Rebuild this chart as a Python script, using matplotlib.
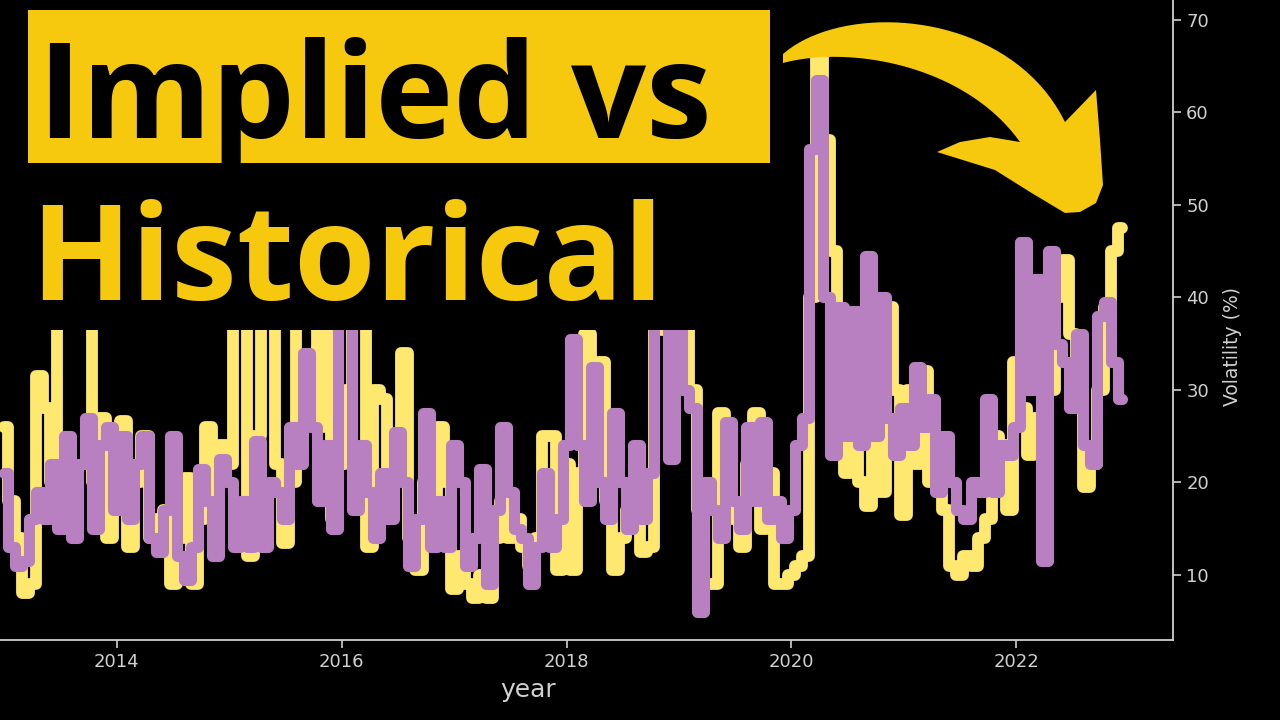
import numpy as np
import matplotlib
matplotlib.use("Agg")
import matplotlib.pyplot as plt
from matplotlib.patches import Rectangle, Polygon

# sampled roughly every 3 weeks starting Jan 2013
start_year = 2013.0
step = 1 / 16

hist_vol = [
    26, 18, 14, 8, 9, 31.5, 28, 20, 40, 40, 38, 40, 38, 20, 27, 14, 22, 26.7, 13, 20, 25, 14, 16,
    17, 9, 14, 20.5, 9, 16, 26, 18, 24, 22, 40, 40, 12, 25, 40, 40, 22, 13.5, 20, 40, 38, 40, 26,
    38, 16, 22, 30, 40, 38, 13, 30, 29, 17, 21, 34, 14, 10.5, 20, 16, 26, 20, 8.5, 12, 9, 7.5, 10,
    7.5, 14, 18, 14, 16, 13, 11, 14, 25, 25, 10.5, 22, 10.5, 21, 36, 24, 33, 18, 10.5, 14, 17, 18, 12.5,
    13, 38, 36.5, 40, 38, 40, 30, 17, 9, 9, 27.5, 22, 16, 13, 22, 27.5, 15, 21, 9, 9, 10, 11,
    12, 40, 66, 57, 45, 35, 21, 30, 20, 17.5, 26, 19, 39, 30, 16.5, 30, 22, 32, 20, 24, 17, 11, 10,
    12, 11, 14, 16, 25, 24, 17, 33, 28, 23, 27, 24, 30, 40, 44, 36, 30, 19.5, 22, 30, 39, 45, 47.5,
]

implied_vol = [
    21, 13, 11, 11.5, 16, 19, 16, 22, 15, 25, 14, 22, 27, 15, 24, 26, 17, 25, 16, 22, 25, 14, 12.5,
    17, 25, 12, 9.5, 13, 21.5, 18, 12, 22.5, 20, 13, 18, 13, 24.5, 13, 20, 19, 16, 26, 22, 34, 26, 18,
    24, 15, 40, 40, 17, 24, 19, 14, 21, 16, 25.5, 20, 11, 16, 27.5, 13, 18, 13, 24, 20, 11, 14, 21.5,
    9, 17, 26, 19, 15, 14, 9, 13, 21, 13, 16, 24, 35.5, 24, 18, 32.5, 20, 16, 27.5, 20, 15, 24, 16,
    21, 40, 40, 22.5, 38, 30, 28, 6, 20, 17, 14, 26.5, 18, 15, 26, 18, 26.5, 16, 18, 14, 17, 24,
    27, 56, 63.5, 40, 23, 39, 25, 38.5, 24, 44.5, 25, 40, 27, 23, 28, 24, 32.5, 26, 29, 19, 25, 20, 17,
    16, 20, 19, 29, 19, 24, 23, 26, 46, 30, 42, 11.5, 45, 35, 33, 28, 36, 24, 22, 38, 39.5, 33, 29,
]

years = start_year + step * np.arange(len(hist_vol))

x_ticks = [2014, 2016, 2018, 2020, 2022]
y_ticks = [10, 20, 30, 40, 50, 60, 70]

YELLOW_LINE = "#FFE870"
PURPLE_LINE = "#B880C1"
GOLD = "#F6C90E"
AXIS_GREY = "#D0D0D0"

W, H = 1280, 720


def px(x, y):
    """pixel coords (origin top-left) -> figure fraction"""
    return (x / W, 1 - y / H)


def cubic(p0, p1, p2, p3, n=40):
    t = np.linspace(0, 1, n)[:, None]
    p0, p1, p2, p3 = map(np.array, (p0, p1, p2, p3))
    return ((1 - t) ** 3) * p0 + 3 * ((1 - t) ** 2) * t * p1 + 3 * (1 - t) * t**2 * p2 + t**3 * p3


fig = plt.figure(figsize=(12.8, 7.2), dpi=100, facecolor="black")
ax = fig.add_axes([0.0, 1 - 640 / H, 1173 / W, 640 / H])
ax.set_facecolor("black")

# daily rolling vols look blocky, steps get closer to that than straight zigzags
ax.plot(years, hist_vol, color=YELLOW_LINE, lw=8.5, drawstyle="steps-mid",
        solid_capstyle="round", solid_joinstyle="round", zorder=2)
ax.plot(years, implied_vol, color=PURPLE_LINE, lw=8, drawstyle="steps-mid",
        solid_capstyle="round", solid_joinstyle="round", zorder=3)

ax.set_xlim(2012.96, 2023.395)
ax.set_ylim(2.97, 72.16)
ax.set_xticks(x_ticks)
ax.set_yticks(y_ticks)
ax.yaxis.tick_right()
ax.yaxis.set_label_position("right")
ax.tick_params(colors=AXIS_GREY, labelsize=13, length=6, width=1.2)
for side in ("left", "top"):
    ax.spines[side].set_visible(False)
for side in ("right", "bottom"):
    ax.spines[side].set_color(AXIS_GREY)
    ax.spines[side].set_linewidth(1.3)
ax.set_xlabel("year", color=AXIS_GREY, fontsize=18)
ax.set_ylabel("Volatility (%)", color=AXIS_GREY, fontsize=13.5)
# the original chart was cropped on the left, so labels sit off-centre
ax.xaxis.set_label_coords(528 / 1173, -38 / 640)
ax.yaxis.set_label_coords(1.043, (640 - 346) / 640)

# thumbnail overlay: black panel behind the title
x0, y0 = px(0, 330)
fig.patches.append(Rectangle((x0, y0), 785 / W, 330 / H, transform=fig.transFigure,
                             facecolor="black", edgecolor="none", zorder=5))

# yellow title box
bx, by = px(28, 163)
fig.patches.append(Rectangle((bx, by), (770 - 28) / W, (163 - 10) / H, transform=fig.transFigure,
                             facecolor=GOLD, edgecolor="none", zorder=6))

title_font = dict(family=["Open Sans", "DejaVu Sans"], weight="bold", fontsize=95)
tx, ty = px(38, 138)
fig.text(tx, ty, "Implied vs", color="black", ha="left", va="baseline", zorder=7, **title_font)
tx, ty = px(30, 300)
fig.text(tx, ty, "Historical", color=GOLD, ha="left", va="baseline", zorder=7, **title_font)

# curved arrow
upper = cubic((783, 54), (845, 0), (1010, 10), (1065, 122))
lower = cubic((783, 63), (850, 45), (965, 65), (1020, 142))
head = np.array([
    (1096, 90), (1100, 140), (1103, 185), (1096, 203), (1080, 212), (1065, 213),
    (1030, 192), (995, 170), (937, 152), (960, 142), (990, 137),
])
outline = np.vstack([upper, head, lower[::-1]])
outline = np.array([px(x, y) for x, y in outline])
fig.patches.append(Polygon(outline, closed=True, transform=fig.transFigure,
                           facecolor=GOLD, edgecolor="none", zorder=6))

fig.savefig("out.png", dpi=100, facecolor="black")
